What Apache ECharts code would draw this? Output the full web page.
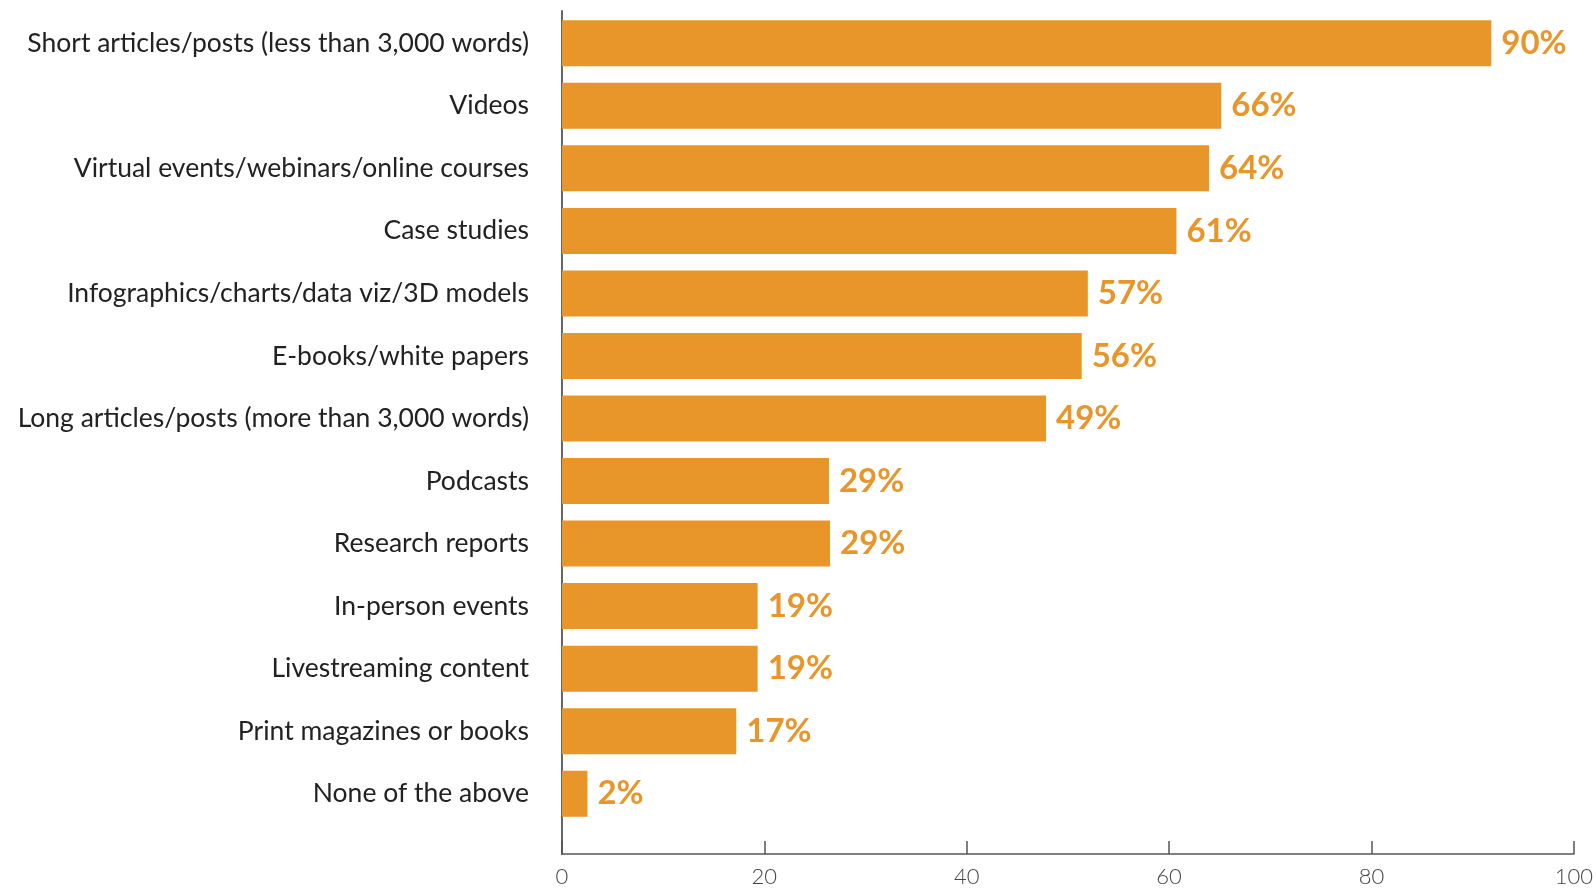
<!DOCTYPE html>
<html>
<head>
<meta charset="utf-8">
<script src="https://cdn.jsdelivr.net/npm/echarts@6/dist/echarts.min.js"></script>
<style>
  html, body { margin: 0; padding: 0; background: #fff; }
  #chart { width: 1596px; height: 890px; }
</style>
</head>
<body>
<div id="chart"></div>
<script>
// categories, top to bottom
const categories = [
  'Short articles/posts (less than 3,000 words)',
  'Videos',
  'Virtual events/webinars/online courses',
  'Case studies',
  'Infographics/charts/data viz/3D models',
  'E-books/white papers',
  'Long articles/posts (more than 3,000 words)',
  'Podcasts',
  'Research reports',
  'In-person events',
  'Livestreaming content',
  'Print magazines or books',
  'None of the above'
];
// bar lengths as drawn against the axis
const barValues = [91.2, 64.7, 63.5, 60.3, 51.6, 51.0, 47.5, 26.2, 26.3, 19.2, 19.2, 17.1, 2.5];
// printed labels
const labelTexts = ['90%', '66%', '64%', '61%', '57%', '56%', '49%', '29%', '29%', '19%', '19%', '17%', '2%'];
const xTicks = [0, 20, 40, 60, 80, 100];

const orange = '#E8952A';
const chart = echarts.init(document.getElementById('chart'));

const option = {
  animation: false,
  grid: [
    // bars
    { left: 562, right: 15, top: 12, bottom: 65 },
    // frame with the axis lines, reaching a bit lower than the bars
    { left: 562, right: 15, top: 11, bottom: 36 }
  ],
  xAxis: [
    {
      gridIndex: 0,
      type: 'value',
      min: xTicks[0],
      max: xTicks[xTicks.length - 1],
      show: false
    },
    {
      gridIndex: 1,
      type: 'value',
      min: xTicks[0],
      max: xTicks[xTicks.length - 1],
      interval: 20,
      axisLine: { show: true, lineStyle: { color: '#555', width: 1.5 } },
      axisTick: { show: true, inside: true, length: 13, lineStyle: { color: '#555', width: 1.5 } },
      axisLabel: { color: '#444', fontSize: 22, fontFamily: 'Lato', fontWeight: 300, margin: 12 },
      splitLine: { show: false }
    }
  ],
  yAxis: [
    {
      gridIndex: 0,
      type: 'category',
      inverse: true,
      data: categories,
      axisLine: { show: false },
      axisTick: { show: false },
      axisLabel: { color: '#222', fontSize: 26.5, fontFamily: 'Lato', margin: 33 }
    },
    {
      gridIndex: 1,
      type: 'value',
      axisLine: { show: true, lineStyle: { color: '#666', width: 2 } },
      axisTick: { show: false },
      axisLabel: { show: false },
      splitLine: { show: false }
    }
  ],
  series: [{
    type: 'bar',
    xAxisIndex: 0,
    yAxisIndex: 0,
    data: barValues,
    barWidth: 46,
    itemStyle: { color: orange },
    label: {
      show: true,
      position: 'right',
      distance: 10,
      color: orange,
      fontSize: 33,
      fontWeight: 'bold',
      fontFamily: 'Lato',
      formatter: p => labelTexts[p.dataIndex]
    }
  }]
};

chart.setOption(option);
window.addEventListener('resize', () => chart.resize());
</script>
</body>
</html>
